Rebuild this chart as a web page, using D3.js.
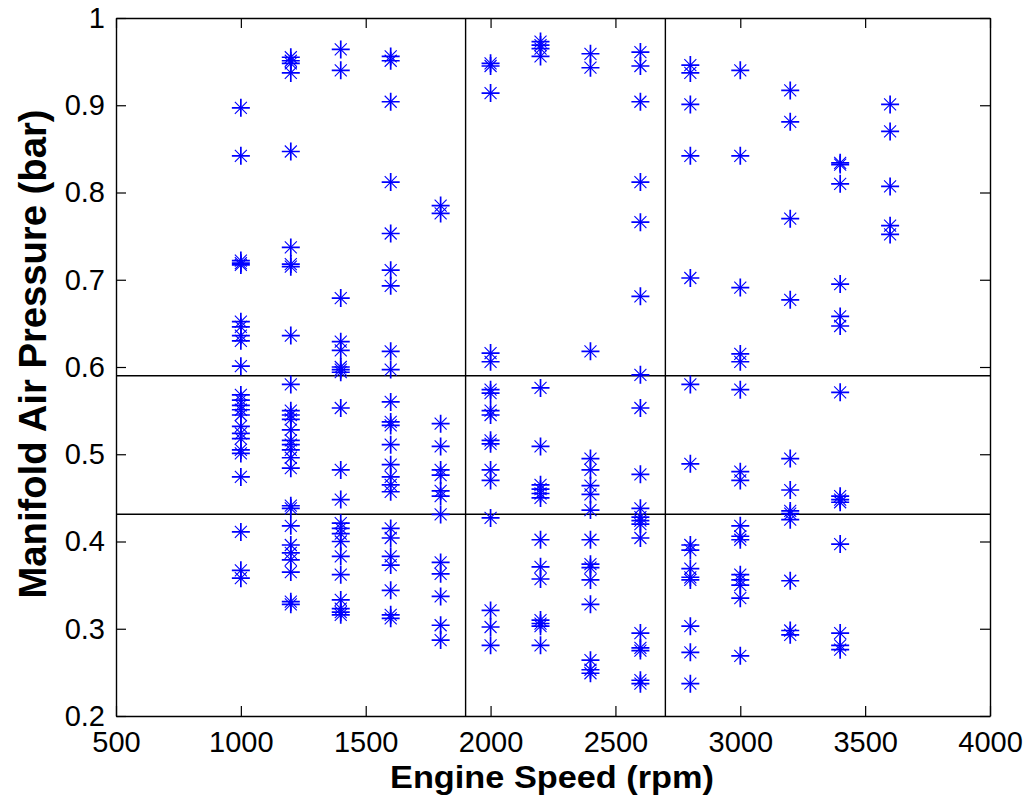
<!DOCTYPE html>
<html>
<head>
<meta charset="utf-8">
<script src="https://cdn.jsdelivr.net/npm/d3@7"></script>
<style>
  body { margin: 0; background: #fff; }
  svg { display: block; }
  text { font-family: "Liberation Sans", Arial, sans-serif; }
</style>
</head>
<body>
<svg id="chart"></svg>
<script>
const width = 1031;
const height = 805;

// engine speed columns (rpm)
const speeds = [1000, 1200, 1400, 1600, 1800, 2000, 2200, 2400, 2600, 2800, 3000, 3200, 3400, 3600];

// manifold pressure readings (bar) per speed column
const p1000 = [0.897, 0.842, 0.722, 0.719, 0.717, 0.652, 0.646, 0.636, 0.630, 0.601, 0.568, 0.562, 0.556, 0.551, 0.545, 0.532, 0.524, 0.518, 0.505, 0.501, 0.474, 0.411, 0.367, 0.358];
const p1200 = [0.955, 0.951, 0.948, 0.937, 0.847, 0.737, 0.718, 0.715, 0.636, 0.580, 0.550, 0.545, 0.540, 0.528, 0.516, 0.511, 0.505, 0.496, 0.484, 0.441, 0.438, 0.418, 0.396, 0.387, 0.379, 0.365, 0.331, 0.328];
const p1400 = [0.964, 0.940, 0.679, 0.629, 0.619, 0.600, 0.597, 0.594, 0.553, 0.482, 0.448, 0.421, 0.415, 0.409, 0.400, 0.383, 0.362, 0.333, 0.323, 0.319, 0.316];
const p1600 = [0.956, 0.951, 0.904, 0.812, 0.753, 0.711, 0.693, 0.618, 0.597, 0.560, 0.537, 0.533, 0.511, 0.488, 0.474, 0.465, 0.457, 0.415, 0.404, 0.383, 0.373, 0.344, 0.316, 0.312];
const p1800 = [0.785, 0.776, 0.535, 0.509, 0.482, 0.476, 0.458, 0.452, 0.431, 0.376, 0.363, 0.337, 0.304, 0.287];
const p2000 = [0.948, 0.945, 0.914, 0.616, 0.606, 0.574, 0.570, 0.550, 0.545, 0.516, 0.512, 0.482, 0.470, 0.427, 0.321, 0.302, 0.281];
const p2200 = [0.973, 0.969, 0.965, 0.956, 0.576, 0.509, 0.465, 0.460, 0.455, 0.450, 0.402, 0.371, 0.357, 0.310, 0.306, 0.303, 0.281];
const p2400 = [0.959, 0.943, 0.618, 0.495, 0.482, 0.464, 0.454, 0.436, 0.402, 0.374, 0.370, 0.356, 0.328, 0.264, 0.253, 0.249];
const p2600 = [0.961, 0.945, 0.904, 0.812, 0.766, 0.681, 0.591, 0.553, 0.477, 0.438, 0.428, 0.424, 0.420, 0.404, 0.295, 0.278, 0.275, 0.241, 0.237];
const p2800 = [0.946, 0.937, 0.901, 0.842, 0.702, 0.580, 0.489, 0.396, 0.390, 0.369, 0.359, 0.356, 0.303, 0.273, 0.237];
const p3000 = [0.940, 0.842, 0.691, 0.615, 0.606, 0.574, 0.480, 0.470, 0.418, 0.406, 0.402, 0.362, 0.356, 0.350, 0.335, 0.269];
const p3200 = [0.917, 0.881, 0.770, 0.677, 0.495, 0.459, 0.435, 0.432, 0.425, 0.355, 0.298, 0.293];
const p3400 = [0.834, 0.832, 0.810, 0.695, 0.658, 0.647, 0.571, 0.452, 0.448, 0.445, 0.397, 0.295, 0.281, 0.276];
const p3600 = [0.901, 0.870, 0.807, 0.762, 0.752];

const pressures = [p1000, p1200, p1400, p1600, p1800, p2000, p2200, p2400, p2600, p2800, p3000, p3200, p3400, p3600];

// divider lines
const speedCuts = [1900, 2700];
const pressureCuts = [0.59, 0.4312];

const xTicks = [500, 1000, 1500, 2000, 2500, 3000, 3500, 4000];
const yTicks = [0.2, 0.3, 0.4, 0.5, 0.6, 0.7, 0.8, 0.9, 1];

const points = [];
speeds.forEach((s, i) => pressures[i].forEach(p => points.push({ rpm: s, bar: p })));

const padLeft = 116, padRight = 990, padTop = 18, padBot = 716;

const xScale = d3.scaleLinear().domain([500, 4000]).range([padLeft, padRight]);
const yScale = d3.scaleLinear().domain([0.2, 1]).range([padBot, padTop]);

const chart = d3.select('#chart').attr('width', width).attr('height', height);
chart.append('rect').attr('width', width).attr('height', height).attr('fill', '#fff');

/* divider lines */
chart.append('g')
  .selectAll('line')
  .data(pressureCuts)
  .enter()
  .append('line')
  .attr('x1', padLeft).attr('x2', padRight)
  .attr('y1', d => yScale(d)).attr('y2', d => yScale(d))
  .attr('stroke', '#000').attr('stroke-width', 1.4);

chart.append('g')
  .selectAll('line')
  .data(speedCuts)
  .enter()
  .append('line')
  .attr('y1', padTop).attr('y2', padBot)
  .attr('x1', d => xScale(d)).attr('x2', d => xScale(d))
  .attr('stroke', '#000').attr('stroke-width', 1.4);

/* asterisk markers */
const plusArms = () => {
  const p = d3.path();
  p.moveTo(-9, 0); p.lineTo(9, 0);
  p.moveTo(0, -9); p.lineTo(0, 9);
  return p.toString();
};
const crossArms = () => {
  const p = d3.path();
  p.moveTo(-6, -6); p.lineTo(6, 6);
  p.moveTo(-6, 6); p.lineTo(6, -6);
  return p.toString();
};

const marks = chart.append('g')
  .selectAll('g')
  .data(points)
  .enter()
  .append('g')
  .attr('transform', d => `translate(${xScale(d.rpm)},${yScale(d.bar)})`);
marks.append('path').attr('d', plusArms()).attr('stroke', '#0000ff').attr('stroke-width', 1.7).attr('fill', 'none');
marks.append('path').attr('d', crossArms()).attr('stroke', '#0000ff').attr('stroke-width', 1.1).attr('fill', 'none');

/* axes */
const styleAxis = g => {
  g.select('.domain').attr('stroke', '#000').attr('stroke-width', 1.4);
  g.selectAll('.tick line').attr('stroke', '#000').attr('stroke-width', 1.2);
  g.selectAll('.tick text')
    .attr('fill', '#000')
    .style('font-size', '29px')
    .style('font-family', '"Liberation Sans", Arial, sans-serif');
};

chart.append('g')
  .attr('transform', `translate(0,${padBot})`)
  .call(d3.axisBottom(xScale).tickValues(xTicks).tickSizeInner(-10).tickSizeOuter(0).tickPadding(15)
    .tickFormat(d => String(d)))
  .call(styleAxis);

chart.append('g')
  .attr('transform', `translate(0,${padTop})`)
  .call(d3.axisTop(xScale).tickValues(xTicks).tickSizeInner(-10).tickSizeOuter(0).tickFormat(''))
  .call(styleAxis);

chart.append('g')
  .attr('transform', `translate(${padLeft},0)`)
  .call(d3.axisLeft(yScale).tickValues(yTicks).tickSizeInner(-10).tickSizeOuter(0).tickPadding(11)
    .tickFormat(d => String(+d.toFixed(1))))
  .call(styleAxis);

chart.append('g')
  .attr('transform', `translate(${padRight},0)`)
  .call(d3.axisRight(yScale).tickValues(yTicks).tickSizeInner(-10).tickSizeOuter(0).tickFormat(''))
  .call(styleAxis);

/* axis titles */
chart.append('text')
  .attr('x', 552)
  .attr('y', 788)
  .attr('text-anchor', 'middle')
  .attr('font-weight', 'bold')
  .attr('font-size', 31)
  .attr('textLength', 324)
  .attr('lengthAdjust', 'spacingAndGlyphs')
  .text('Engine Speed (rpm)');

chart.append('text')
  .attr('transform', 'translate(46,354) rotate(-90)')
  .attr('text-anchor', 'middle')
  .attr('font-weight', 'bold')
  .attr('font-size', 38)
  .attr('textLength', 489)
  .attr('lengthAdjust', 'spacingAndGlyphs')
  .text('Manifold Air Pressure (bar)');
</script>
</body>
</html>
